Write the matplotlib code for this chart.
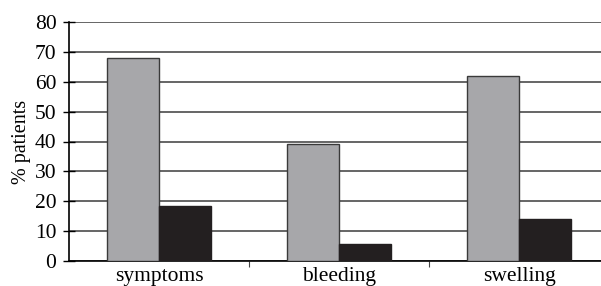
import numpy as np
import matplotlib
matplotlib.use('Agg')
import matplotlib.pyplot as plt
from matplotlib.ticker import FixedLocator, NullFormatter, FixedFormatter

plt.rcParams['font.family'] = ['Liberation Serif', 'DejaVu Serif']

categories = ['symptoms', 'bleeding', 'swelling']
grey_vals = [68, 39, 62]
black_vals = [18.5, 5.6, 14]
y_ticks = [0, 10, 20, 30, 40, 50, 60, 70, 80]

fig = plt.figure(figsize=(6.01, 2.86), dpi=100)
# axes run a little past the right edge, as in the cropped original
ax = fig.add_axes([69 / 601, 25 / 286, 540 / 601, 239 / 286])

x = np.arange(len(categories))
w = 0.29
ax.bar(x - w / 2, grey_vals, w, color='#a7a7aa', edgecolor='#3a3a3a', linewidth=1, zorder=3)
ax.bar(x + w / 2, black_vals, w, color='#231f20', edgecolor='#231f20', linewidth=1, zorder=3)

ax.set_xlim(-0.5, 2.5)
ax.set_ylim(0, 80)
ax.set_yticks(y_ticks)
ax.yaxis.grid(True, color='#3c3c3c', linewidth=1.1, zorder=1)
ax.set_axisbelow(True)

# category boundaries as small ticks, labels at the centres
ax.xaxis.set_major_locator(FixedLocator([0.5, 1.5]))
ax.xaxis.set_major_formatter(NullFormatter())
ax.xaxis.set_minor_locator(FixedLocator(x))
ax.xaxis.set_minor_formatter(FixedFormatter(categories))
ax.tick_params(axis='x', which='major', length=4, width=0.8, color='#444444')
ax.tick_params(axis='x', which='minor', length=0, labelsize=15.5, pad=4.5)
ax.tick_params(axis='y', direction='inout', length=8, width=1, labelsize=15.5, pad=5)

for s in ['top', 'right']:
    ax.spines[s].set_visible(False)
ax.spines['left'].set_linewidth(1.2)
ax.spines['bottom'].set_linewidth(1.2)

ax.set_ylabel('% patients', fontsize=14.5, labelpad=3)

fig.savefig('out.png', dpi=100)
